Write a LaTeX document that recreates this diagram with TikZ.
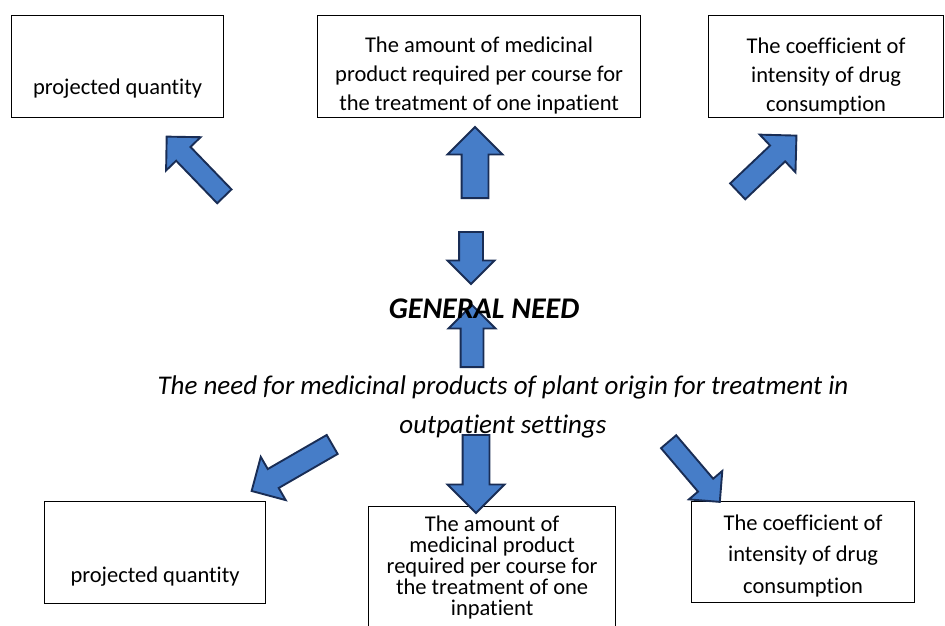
\documentclass[tikz,border=0pt]{standalone}
\usepackage{fontspec}
\setmainfont{Carlito}[Ligatures=NoCommon]
\usetikzlibrary{shapes.arrows}
\definecolor{arrowblue}{RGB}{70,125,200}
\definecolor{arrowedge}{RGB}{25,45,85}
\newcommand{\boxlines}[2]{\parbox[b]{#1}{\centering\lineskiplimit=-\maxdimen #2}}

\begin{document}
\begin{tikzpicture}[x=1pt, y=-1pt,
  box/.style={draw, line width=1.2pt, inner sep=0pt, anchor=south west, font=\fontsize{22.5}{29}\selectfont},
  bigarrow/.style={single arrow, draw=arrowedge, fill=arrowblue, line width=1.9pt, inner xsep=0pt, anchor=tail}]
\clip (0,0) rectangle (945,625);
% top row
\node[box, minimum width=212, text height=79, text depth=23] (pqtop) at (11,118) {projected quantity};
\node[box, minimum width=323, text height=95, text depth=7] (amtop) at (317,118)
  {\boxlines{320pt}{The amount of medicinal\\ product required per course for\\ the treatment of one inpatient}};
\node[box, minimum width=235, text height=96, text depth=6] (cotop) at (708,118)
  {\boxlines{230pt}{The coefficient of\\ intensity of drug\\ consumption}};
% bottom row
\node[box, minimum width=221, text height=81, text depth=21] (pqbot) at (44,604) {projected quantity};
\node[box, minimum width=247, text height=109, text depth=14, font=\fontsize{22.5}{21}\selectfont] (ambot) at (368,630)
  {\boxlines{245pt}{The amount of\\ medicinal product\\ required per course for\\ the treatment of one\\ inpatient}};
\node[box, minimum width=223, text height=92, text depth=9, font=\fontsize{22.5}{31.5}\selectfont] (cobot) at (691,603)
  {\boxlines{220pt}{The coefficient of\\ intensity of drug\\ consumption}};
% block arrows: name/tail x/tail y/angle/length/half shaft/extend
\foreach \n/\x/\y/\a/\l/\s/\e in {upl/225/197/134/83/9/14, upm/475/199/90/71/12.5/14,
    upr/737/192/43.5/81/10/15, dnc/471/231/-90/52/11/11.5, upc/472/368/90/62/10.5/12,
    dnl/333/444/210/93/10/14, dnm/476/434/-90/78/12.5/15, dnr/668/441/-49.6/79/9/12}
  \node[bigarrow, rotate=\a, minimum height=\l, inner ysep=\s, single arrow head extend=\e] (\n) at (\x,\y) {};
% centre texts
\node[font=\fontsize{30}{36}\selectfont\bfseries\itshape, anchor=base] (need) at (484,318) {GENERAL NEED};
\node[font=\fontsize{27}{39}\selectfont\itshape, inner sep=0pt, anchor=base] (plant) at (503,433)
  {\boxlines{900pt}{The need for medicinal products of plant origin for treatment in\\ outpatient settings}};
\end{tikzpicture}
\end{document}
